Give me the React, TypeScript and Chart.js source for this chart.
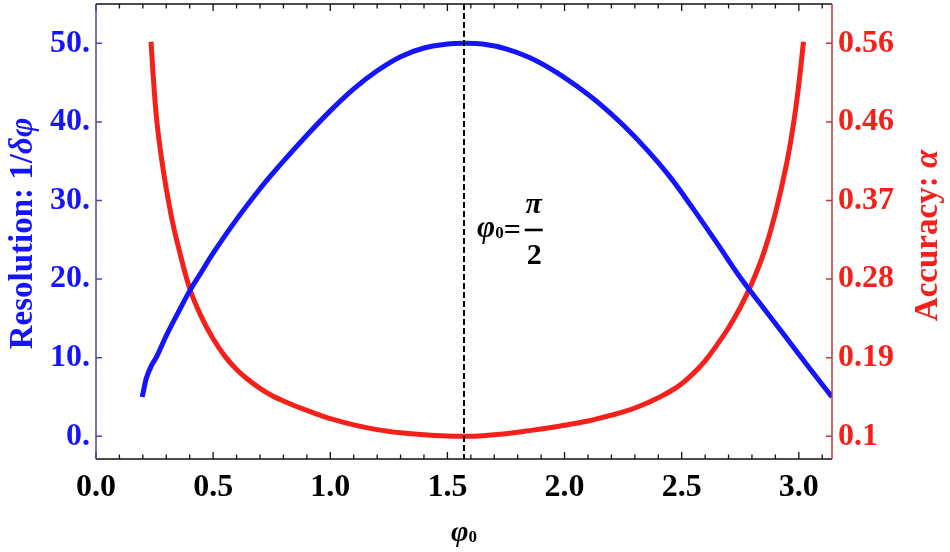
import React, { useEffect, useRef } from 'react';
import { Chart, registerables } from 'chart.js';

Chart.register(...registerables);

// ---- data ----
const PHI_BLUE = [0.197, 0.205, 0.215, 0.235, 0.26, 0.3, 0.35, 0.4, 0.45, 0.5, 0.6, 0.7, 0.8, 0.9, 1.0, 1.1, 1.2, 1.3, 1.4, 1.5, 1.57, 1.65, 1.75, 1.85, 1.95, 2.05, 2.15, 2.25, 2.35, 2.45, 2.55, 2.65, 2.75, 2.85, 2.95, 3.05, 3.1416];
const RESOLUTION = [5.0, 6.1, 7.4, 8.9, 10.2, 12.8, 15.7, 18.5, 20.9, 23.3, 27.6, 31.5, 35.0, 38.3, 41.4, 44.2, 46.5, 48.3, 49.4, 49.9, 50.0, 49.9, 49.3, 48.2, 46.6, 44.6, 42.3, 39.6, 36.5, 33.0, 28.9, 24.6, 20.2, 16.3, 12.4, 8.5, 5.0];

const PHI_RED = [0.235, 0.245, 0.26, 0.28, 0.3, 0.325, 0.35, 0.4, 0.45, 0.5, 0.55, 0.6, 0.65, 0.7, 0.75, 0.8, 0.85, 0.9, 0.95, 1.0, 1.1, 1.2, 1.3, 1.4, 1.5, 1.57, 1.65, 1.75, 1.85, 1.95, 2.0, 2.05, 2.1, 2.15, 2.2, 2.25, 2.3, 2.35, 2.4, 2.45, 2.5, 2.55, 2.6, 2.65, 2.7, 2.75, 2.8, 2.85, 2.9, 2.95, 2.98, 3.0, 3.02];
const ACCURACY = [0.5618, 0.5186, 0.468, 0.4248, 0.3898, 0.353, 0.3236, 0.273, 0.2398, 0.2141, 0.1938, 0.1782, 0.1662, 0.1561, 0.1478, 0.1414, 0.1354, 0.1304, 0.1253, 0.1207, 0.1133, 0.1078, 0.1041, 0.1017, 0.1003, 0.1, 0.1007, 0.103, 0.1066, 0.1106, 0.1129, 0.1152, 0.1179, 0.1212, 0.1247, 0.1285, 0.1331, 0.1386, 0.1451, 0.1524, 0.1616, 0.1736, 0.1883, 0.2067, 0.227, 0.2509, 0.2794, 0.3144, 0.3613, 0.422, 0.4708, 0.5122, 0.5618];

const X_MIN = 0;
const X_MAX = 3.1416;
const X_TICKS = [0, 0.5, 1.0, 1.5, 2.0, 2.5, 3.0];
const X_TICK_LABELS = ['0.0', '0.5', '1.0', '1.5', '2.0', '2.5', '3.0'];
const X_MINOR_TICKS = [0.1, 0.2, 0.3, 0.4, 0.6, 0.7, 0.8, 0.9, 1.1, 1.2, 1.3, 1.4, 1.6, 1.7, 1.8, 1.9, 2.1, 2.2, 2.3, 2.4, 2.6, 2.7, 2.8, 2.9, 3.1];

const LEFT_MIN = -2.89;
const LEFT_MAX = 55.0;
const LEFT_TICKS = [0, 10, 20, 30, 40, 50];
const LEFT_TICK_LABELS = ['0.', '10.', '20.', '30.', '40.', '50.'];

const RIGHT_MIN = 0.0734;
const RIGHT_MAX = 0.606;
const RIGHT_TICKS = [0.1, 0.192, 0.284, 0.376, 0.468, 0.56];
const RIGHT_TICK_LABELS = ['0.1', '0.19', '0.28', '0.37', '0.46', '0.56'];

const MARKER_X = 1.5708;
const MARKER_LABEL_Y = 26.1;

const SERIF = '"Liberation Serif", "Times New Roman", serif';
const BLUE = '#1414ff';
const RED = '#f5201a';

type Seg = { text: string; font: string };

function drawRotatedSegments(ctx: CanvasRenderingContext2D, segs: Seg[], baselineX: number, centerY: number, color: string) {
  ctx.save();
  ctx.fillStyle = color;
  ctx.textBaseline = 'alphabetic';
  ctx.textAlign = 'left';
  let total = 0;
  for (const s of segs) {
    ctx.font = s.font;
    total += ctx.measureText(s.text).width;
  }
  ctx.translate(baselineX, centerY);
  ctx.rotate(-Math.PI / 2);
  let x = -total / 2;
  for (const s of segs) {
    ctx.font = s.font;
    ctx.fillText(s.text, x, 0);
    x += ctx.measureText(s.text).width;
  }
  ctx.restore();
}

const decorPlugin = {
  id: 'decor',
  afterDatasetsDraw(chart: any) {
    const ctx: CanvasRenderingContext2D = chart.ctx;
    const { top, bottom } = chart.chartArea;
    const xs = chart.scales.x;
    const ys = chart.scales.y;
    const px = xs.getPixelForValue(MARKER_X);
    ctx.save();
    ctx.strokeStyle = '#000';
    ctx.lineWidth = 2;
    ctx.setLineDash([6, 3]);
    ctx.beginPath();
    ctx.moveTo(px, top);
    ctx.lineTo(px, bottom);
    ctx.stroke();
    ctx.restore();

    // annotation  φ0 = π / 2
    const cy = ys.getPixelForValue(MARKER_LABEL_Y);
    const ax = px + 13;
    ctx.save();
    ctx.fillStyle = '#000';
    ctx.textBaseline = 'alphabetic';
    ctx.textAlign = 'left';
    ctx.font = `italic bold 31px ${SERIF}`;
    ctx.fillText('φ', ax, cy + 6);
    let w = ctx.measureText('φ').width;
    ctx.font = `bold 17px ${SERIF}`;
    ctx.fillText('0', ax + w, cy + 7);
    w += ctx.measureText('0').width;
    ctx.font = `bold 30px ${SERIF}`;
    ctx.fillText('=', ax + w, cy + 8);
    w += ctx.measureText('=').width + 4;
    const fx = ax + w;
    ctx.fillRect(fx, cy - 2.5, 18, 2.6);
    ctx.textAlign = 'center';
    ctx.font = `italic bold 30px ${SERIF}`;
    ctx.fillText('π', fx + 9, cy - 18);
    ctx.font = `bold 30px ${SERIF}`;
    ctx.fillText('2', fx + 9.5, cy + 33);
    ctx.restore();
  },
  afterDraw(chart: any) {
    const ctx: CanvasRenderingContext2D = chart.ctx;
    const { left, right, top, bottom } = chart.chartArea;
    const xs = chart.scales.x;
    const ys = chart.scales.y;
    const ys1 = chart.scales.y1;
    ctx.save();
    ctx.lineWidth = 1.5;
    ctx.strokeStyle = '#111';
    ctx.beginPath();
    ctx.moveTo(left, bottom);
    ctx.lineTo(right, bottom);
    ctx.moveTo(left, top);
    ctx.lineTo(right, top);
    ctx.stroke();
    ctx.lineWidth = 1.3;
    ctx.beginPath();
    for (const v of X_TICKS) {
      const p = xs.getPixelForValue(v);
      ctx.moveTo(p, bottom);
      ctx.lineTo(p, bottom - 7);
      ctx.moveTo(p, top);
      ctx.lineTo(p, top + 7);
    }
    for (const v of X_MINOR_TICKS) {
      const p = xs.getPixelForValue(v);
      ctx.moveTo(p, bottom);
      ctx.lineTo(p, bottom - 4.5);
      ctx.moveTo(p, top);
      ctx.lineTo(p, top + 4.5);
    }
    ctx.stroke();
    ctx.strokeStyle = '#4a4aa8';
    ctx.lineWidth = 1.5;
    ctx.beginPath();
    ctx.moveTo(left, top);
    ctx.lineTo(left, bottom);
    for (const v of LEFT_TICKS) {
      const p = ys.getPixelForValue(v);
      ctx.moveTo(left, p);
      ctx.lineTo(left + 6, p);
    }
    ctx.stroke();
    ctx.strokeStyle = '#b83a3a';
    ctx.beginPath();
    ctx.moveTo(right, top);
    ctx.lineTo(right, bottom);
    for (const v of RIGHT_TICKS) {
      const p = ys1.getPixelForValue(v);
      ctx.moveTo(right, p);
      ctx.lineTo(right - 6, p);
    }
    ctx.stroke();
    ctx.restore();

    const midY = (top + bottom) / 2;
    drawRotatedSegments(ctx, [
      { text: 'Resolution: 1/', font: `bold 33px ${SERIF}` },
      { text: 'δφ', font: `italic bold 33px ${SERIF}` },
    ], 32, midY + 2, BLUE);
    drawRotatedSegments(ctx, [
      { text: 'Accuracy: ', font: `bold 33px ${SERIF}` },
      { text: 'α', font: `italic bold 33px ${SERIF}` },
    ], 937, midY + 4, RED);
    ctx.save();
    ctx.fillStyle = '#000';
    ctx.textBaseline = 'alphabetic';
    ctx.textAlign = 'left';
    const cx = (left + right) / 2;
    ctx.font = `italic bold 30px ${SERIF}`;
    const wf = ctx.measureText('φ').width;
    ctx.font = `bold 17px ${SERIF}`;
    const w0 = ctx.measureText('0').width;
    const sx = cx - (wf + w0) / 2;
    ctx.font = `italic bold 30px ${SERIF}`;
    ctx.fillText('φ', sx, 541);
    ctx.font = `bold 17px ${SERIF}`;
    ctx.fillText('0', sx + wf, 542);
    ctx.restore();
  },
};

export default function App() {
  const ref = useRef<HTMLCanvasElement | null>(null);
  useEffect(() => {
    if (!ref.current) return;
    const tickFont = { family: SERIF, size: 32, weight: 'bold' as const };
    const chart = new Chart(ref.current, {
      type: 'line',
      data: {
        datasets: [
          {
            data: PHI_BLUE.map((x, i) => ({ x, y: RESOLUTION[i] })),
            borderColor: BLUE,
            borderWidth: 5,
            pointRadius: 0,
            tension: 0.4,
            yAxisID: 'y',
            fill: false,
          },
          {
            data: PHI_RED.map((x, i) => ({ x, y: ACCURACY[i] })),
            borderColor: RED,
            borderWidth: 5,
            pointRadius: 0,
            tension: 0.4,
            yAxisID: 'y1',
            fill: false,
          },
        ],
      },
      options: {
        responsive: false,
        animation: false,
        layout: { padding: { top: 4, left: 0, right: 0, bottom: 0 } },
        plugins: { legend: { display: false }, tooltip: { enabled: false } },
        scales: {
          x: {
            type: 'linear',
            min: X_MIN,
            max: X_MAX,
            grid: { display: false },
            border: { display: false },
            afterBuildTicks: (s: any) => { s.ticks = X_TICKS.map((v) => ({ value: v })); },
            afterFit: (s: any) => { s.height = 93; s.paddingLeft = 0; s.paddingRight = 0; },
            ticks: {
              autoSkip: false,
              maxRotation: 0,
              padding: 2,
              color: '#000',
              font: tickFont,
              callback: (v: any) => X_TICK_LABELS[X_TICKS.indexOf(Number(v))] ?? '',
            },
          },
          y: {
            type: 'linear',
            position: 'left',
            min: LEFT_MIN,
            max: LEFT_MAX,
            grid: { display: false, drawTicks: false },
            border: { display: false },
            afterBuildTicks: (s: any) => { s.ticks = LEFT_TICKS.map((v) => ({ value: v })); },
            afterFit: (s: any) => { s.width = 96; s.paddingTop = 0; s.paddingBottom = 0; },
            ticks: {
              autoSkip: false,
              padding: 6,
              color: BLUE,
              font: tickFont,
              callback: (v: any) => LEFT_TICK_LABELS[LEFT_TICKS.indexOf(Number(v))] ?? '',
            },
          },
          y1: {
            type: 'linear',
            position: 'right',
            min: RIGHT_MIN,
            max: RIGHT_MAX,
            grid: { display: false, drawTicks: false },
            border: { display: false },
            afterBuildTicks: (s: any) => { s.ticks = RIGHT_TICKS.map((v) => ({ value: v })); },
            afterFit: (s: any) => { s.width = 118; s.paddingTop = 0; s.paddingBottom = 0; },
            ticks: {
              autoSkip: false,
              padding: 6,
              color: RED,
              font: tickFont,
              callback: (v: any) => RIGHT_TICK_LABELS[RIGHT_TICKS.indexOf(Number(v))] ?? '',
            },
          },
        },
      },
      plugins: [decorPlugin],
    } as any);
    return () => chart.destroy();
  }, []);
  return (
    <div style={{ position: 'absolute', left: 0, top: 0, width: 950, height: 552, background: '#fff' }}>
      <canvas ref={ref} width={950} height={552} style={{ display: 'block' }} />
    </div>
  );
}
